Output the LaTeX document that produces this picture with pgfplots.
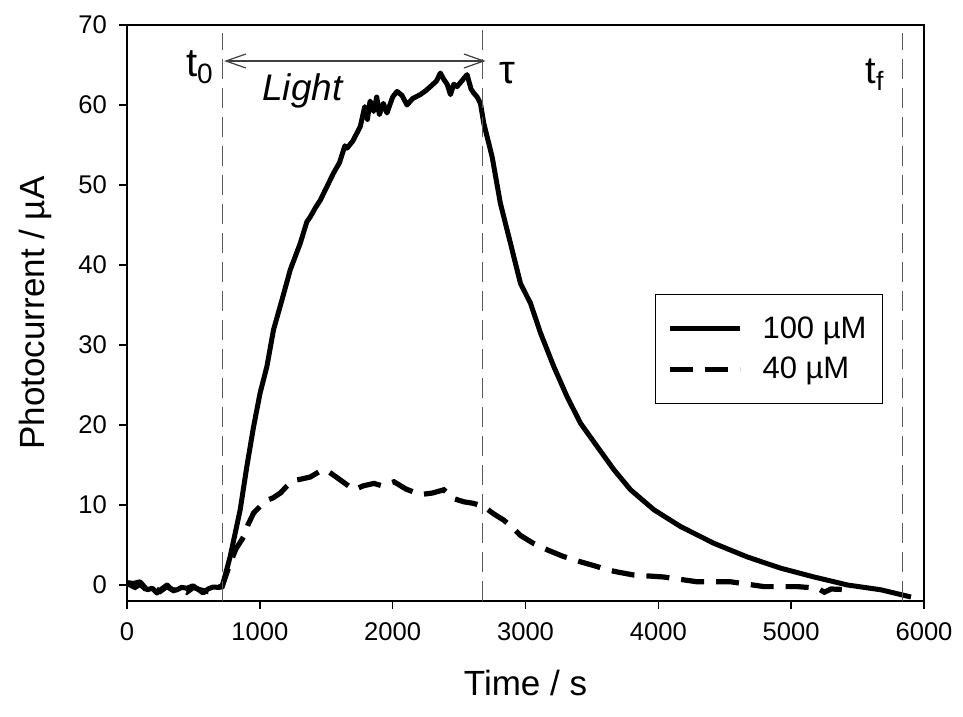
\documentclass[border=0pt]{standalone}
\usepackage{pgfplots}
\pgfplotsset{compat=1.18}
\usepackage{fontspec}
\setmainfont{Liberation Sans}
\usetikzlibrary{arrows.meta}

\begin{document}
\begin{tikzpicture}
    \begin{axis}[
        scale only axis,
        width=398.5pt,
        height=288pt,
        xmin=0, xmax=6000,
        ymin=-2, ymax=70,
        xtick={0,1000,...,6000},
        ytick={0,10,...,70},
        tick align=outside,
        xtick pos=left,
        ytick pos=left,
        major tick length=4pt,
        axis line style={line width=0.8pt},
        tick style={line width=0.8pt, black},
        tick label style={font=\fontsize{12.8}{15}\selectfont},
        xticklabel style={yshift=-3.5pt},
        yticklabel style={xshift=-2.5pt},
        /pgf/number format/assume math mode=true,
        /pgf/number format/set thousands separator={},
        xlabel={Time / s},
        ylabel={Photocurrent / µA},
        every axis x label/.style={at={(rel axis cs:0.5,0)}, yshift=-41pt, anchor=center,
            font=\fontsize{17.5}{20}\selectfont},
        every axis y label/.style={at={(rel axis cs:0,0.5)}, xshift=-46pt, rotate=90, anchor=center,
            font=\fontsize{17.5}{20}\selectfont},
        legend style={
            at={(rel axis cs:0.9486,0.533)},
            anchor=north east,
            draw=black,
            line width=0.5pt,
            font=\fontsize{15.5}{18}\selectfont,
            inner xsep=6pt,
            inner ysep=9pt,
            row sep=4pt,
            /tikz/every odd column/.append style={column sep=8pt}
        },
        legend cell align=left,
        legend image code/.code={\draw[#1] (0pt,0pt) -- (35pt,0pt);},
        clip=false
    ]
        % 100 uM
        \addplot[black, line width=2.5pt, line join=round] coordinates {
            (0,0.3) (50,0.2) (98,0.4) (151,-0.6) (190,-0.4) (226,-1.0) (260,-0.5)
            (301,0.0) (340,-0.6) (377,-0.6) (410,-0.3) (452,-0.4) (497,-0.1)
            (540,-0.6) (573,-1.0) (610,-0.5) (648,-0.25) (690,-0.3) (716,-0.2)
            (776,3.5) (852,9.4) (902,14.8) (953,19.8) (1002,24) (1053,27.3)
            (1103,31.9) (1166,35.6) (1229,39.4) (1304,42.7) (1354,45.4) (1379,46)
            (1420,47.2) (1455,48.1) (1517,50.2) (1555,51.5) (1600,52.8) (1640,54.9)
            (1656,54.6) (1700,55.5) (1756,57.3) (1790,59.8) (1810,58.2) (1830,60.5)
            (1857,59.2) (1880,61) (1900,58.8) (1930,60.2) (1957,59) (2000,61)
            (2033,61.7) (2070,61.2) (2108,60) (2150,60.8) (2208,61.3) (2250,61.8)
            (2284,62.3) (2330,63) (2359,64) (2385,63.2) (2410,62.6) (2435,61.3)
            (2460,62.6) (2485,62.3) (2520,63) (2560,63.8) (2590,62) (2610,61.5)
            (2636,61) (2661,60.2) (2686,57.7) (2749,53.5) (2811,47.7) (2887,42.7)
            (2962,37.7) (3038,35.2) (3113,31.5) (3213,27.3) (3314,23.5) (3415,20.2)
            (3540,17.3) (3666,14.4) (3791,11.9) (3967,9.4) (4168,7.3) (4420,5.2)
            (4671,3.5) (4922,2.1) (5173,1.0) (5425,0) (5676,-0.6) (5902,-1.5)
        };
        \addlegendentry{100 µM}

        % 40 uM
        \addplot[black, line width=2.6pt, dash pattern=on 11.5pt off 6pt] coordinates {
            (0,0.2) (60,-0.3) (100,0.1) (150,-0.7) (200,-0.3) (250,-0.8) (300,-0.2)
            (350,-0.7) (400,-0.4) (450,-0.9) (500,-0.3) (550,-0.6) (600,-0.8)
            (650,-0.3) (716,-0.2) (776,2.7) (820,4.5) (877,6) (910,7.5) (953,9)
            (1000,9.8) (1055,10.6) (1100,10.9) (1155,11.5) (1200,12.3) (1256,13.1)
            (1300,13.2) (1380,13.5) (1450,14.2) (1507,14.3) (1583,13.4) (1650,12.6)
            (1708,11.9) (1780,12.4) (1859,12.7) (1920,12.4) (2010,12.9) (2100,12.0)
            (2208,11.3) (2300,11.5) (2385,11.9) (2460,10.8) (2536,10.4) (2610,10.2)
            (2686,9.8) (2760,8.9) (2837,8.1) (2900,7.2) (2962,6.2) (3060,5.2)
            (3163,4.4) (3280,3.6) (3414,2.9) (3520,2.4) (3615,1.9) (3700,1.6)
            (3815,1.25) (4042,1.0) (4293,0.4) (4545,0.4) (4796,-0.2) (5047,-0.2)
            (5198,-0.4) (5250,-0.9) (5300,-0.5) (5450,-0.6)
        };
        \addlegendentry{40 µM}

        % t0, tau, tf markers
        \addplot[forget plot, black!65, line width=0.6pt, dash pattern=on 10pt off 4.5pt]
            coordinates {(716,-2) (716,69)};
        \addplot[forget plot, black!65, line width=0.6pt, dash pattern=on 10pt off 4.5pt]
            coordinates {(2675,-2) (2675,69.4)};
        \addplot[forget plot, black!65, line width=0.6pt, dash pattern=on 10pt off 4.5pt]
            coordinates {(5840,-2) (5840,69)};

        % light period arrow
        \addplot[forget plot, black!75, line width=0.6pt,
            {Straight Barb[length=10pt,width=7pt]}-{Straight Barb[length=10pt,width=7pt]}]
            coordinates {(731,65.5) (2700,65.5)};

        \node[anchor=base, font=\fontsize{20}{24}\selectfont] at (axis cs:549,63.5) {t\textsubscript{0}};
        \node[anchor=base, font=\fontsize{18.5}{22}\itshape] at (axis cs:1321,60.6) {Light};
        \node[anchor=center, font=\fontsize{20}{24}\selectfont] at (axis cs:2861,64) {τ};
        \node[anchor=base, font=\fontsize{19}{22}\selectfont] at (axis cs:5631,62.75) {t\textsubscript{f}};
    \end{axis}
    \path (current axis.south west) ++(-63.5pt,-57.5pt);
    \path (current axis.north east) ++(19.5pt,12.5pt);
\end{tikzpicture}
\end{document}
